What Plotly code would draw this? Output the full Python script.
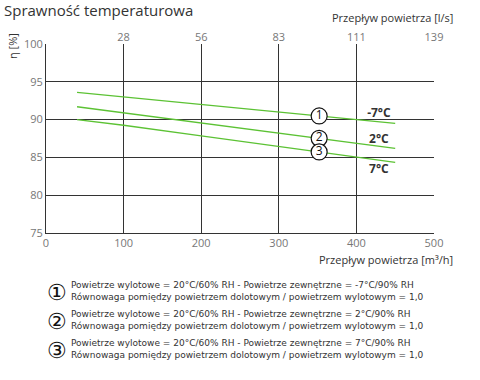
import plotly.graph_objects as go

# Data
flow_m3h = [40, 100, 200, 300, 400, 450]
eff_m7 = [93.6, 93.0, 92.0, 91.0, 90.0, 89.5]
eff_p2 = [91.7, 90.9, 89.55, 88.2, 86.9, 86.2]
eff_p7 = [90.0, 89.25, 87.85, 86.45, 85.05, 84.35]
series_labels = ["-7°C", "2°C", "7°C"]
series_nums = ["1", "2", "3"]
marker_flow = 352
label_flow = 429
x_ticks = [0, 100, 200, 300, 400, 500]
top_ticks = [100, 200, 300, 400, 500]
y_ticks = [75, 80, 85, 90, 95, 100]
legend_lines = [
    ("Powietrze wylotowe = 20°C/60% RH - Powietrze zewnętrzne = -7°C/90% RH",
     "Równowaga pomiędzy powietrzem dolotowym / powietrzem wylotowym = 1,0"),
    ("Powietrze wylotowe = 20°C/60% RH - Powietrze zewnętrzne = 2°C/90% RH",
     "Równowaga pomiędzy powietrzem dolotowym / powietrzem wylotowym = 1,0"),
    ("Powietrze wylotowe = 20°C/60% RH - Powietrze zewnętrzne = 7°C/90% RH",
     "Równowaga pomiędzy powietrzem dolotowym / powietrzem wylotowym = 1,0"),
]

series = [eff_m7, eff_p2, eff_p7]
GREEN = "#5cc234"
DARK = "#333333"
FONT = "Open Sans"

def interp(xs, ys, x):
    for i in range(len(xs) - 1):
        if xs[i] <= x <= xs[i + 1]:
            t = (x - xs[i]) / (xs[i + 1] - xs[i])
            return ys[i] + t * (ys[i + 1] - ys[i])
    return ys[-1]

fig = go.Figure()
for ys in series:
    fig.add_trace(go.Scatter(x=flow_m3h, y=ys, mode="lines",
                             line=dict(color=GREEN, width=1.3),
                             hoverinfo="skip", showlegend=False))

# circled markers on lines
mk_y = [interp(flow_m3h, ys, marker_flow) for ys in series]
fig.add_trace(go.Scatter(x=[marker_flow] * 3, y=mk_y, mode="markers+text",
                         text=series_nums, textposition="middle center",
                         textfont=dict(family=FONT, size=12, color="#111"),
                         marker=dict(size=16, color="white",
                                     line=dict(color="#111", width=1.2)),
                         hoverinfo="skip", showlegend=False))

# end labels
lab_y = [interp(flow_m3h, ys, 450) for ys in series]
lab_offsets = [1.3, 1.1, -1.0]
fig.add_trace(go.Scatter(x=[label_flow] * 3,
                         y=[v + o for v, o in zip(lab_y, lab_offsets)],
                         mode="text", text=["<b>%s</b>" % s for s in series_labels],
                         textfont=dict(family=FONT, size=12, color=DARK),
                         hoverinfo="skip", showlegend=False))

# invisible trace for top axis
fig.add_trace(go.Scatter(x=[0, 500], y=[75, 75], xaxis="x2", mode="lines",
                         line=dict(width=0), hoverinfo="skip", showlegend=False))

fig.update_layout(
    width=480, height=380,
    margin=dict(l=46, r=46, t=44, b=147),
    paper_bgcolor="white", plot_bgcolor="white",
    font=dict(family=FONT, color=DARK),
    xaxis=dict(range=[0, 500], tickvals=x_ticks, showgrid=True,
               gridcolor=DARK, gridwidth=1, zeroline=False, automargin=False,
               showline=True, linecolor=DARK, linewidth=1,
               tickfont=dict(size=11, color="#777"), ticks=""),
    xaxis2=dict(range=[0, 500], overlaying="x", side="top",
                tickvals=top_ticks, automargin=False,
                ticktext=[str(round(v / 3.6)) for v in top_ticks],
                showgrid=False, zeroline=False, showline=False,
                tickfont=dict(size=11, color="#777"), ticks=""),
    yaxis=dict(range=[75, 100], tickvals=y_ticks, showgrid=True,
               gridcolor=DARK, gridwidth=1, zeroline=False, automargin=False,
               showline=True, linecolor=DARK, linewidth=1,
               tickfont=dict(size=11, color="#777"), ticks=""),
)

annotations = [
    dict(text="Sprawność temperaturowa", xref="paper", yref="paper",
         x=-44 / 388, y=1 + 34 / 189, xanchor="left", yanchor="middle",
         showarrow=False, font=dict(size=15, color=DARK)),
    dict(text="Przepływ powietrza [l/s]", xref="paper", yref="paper",
         x=(455 - 46) / 388, y=1 + 27 / 189, xanchor="right", yanchor="middle",
         showarrow=False, font=dict(size=11, color=DARK)),
    dict(text="Przepływ powietrza [m³/h]", xref="paper", yref="paper",
         x=(455 - 46) / 388, y=-26 / 189, xanchor="right", yanchor="middle",
         showarrow=False, font=dict(size=11, color=DARK)),
    dict(text="η [%]", xref="paper", yref="paper", textangle=-90,
         x=-33 / 388, y=1 + 13 / 189, xanchor="center", yanchor="top",
         showarrow=False, font=dict(size=11, color=DARK)),
]
block_y = [291, 320, 349]
for i, (l1, l2) in enumerate(legend_lines):
    cy = block_y[i]
    annotations.append(dict(text=["①", "②", "③"][i], xref="paper", yref="paper",
                            x=(57 - 46) / 388, y=(233 - cy) / 189,
                            xanchor="center", yanchor="middle", showarrow=False,
                            font=dict(size=22, color="#111")))
    annotations.append(dict(text=l1 + "<br>" + l2, xref="paper", yref="paper",
                            x=(69 - 46) / 388, y=(233 - cy) / 189,
                            xanchor="left", yanchor="middle", align="left",
                            showarrow=False,
                            font=dict(size=9, color=DARK, family="DejaVu Sans")))
fig.update_layout(annotations=annotations)

fig.write_html("out.html", config={"displayModeBar": False},
               post_script="document.body.style.margin='0';document.body.style.overflow='hidden';")
